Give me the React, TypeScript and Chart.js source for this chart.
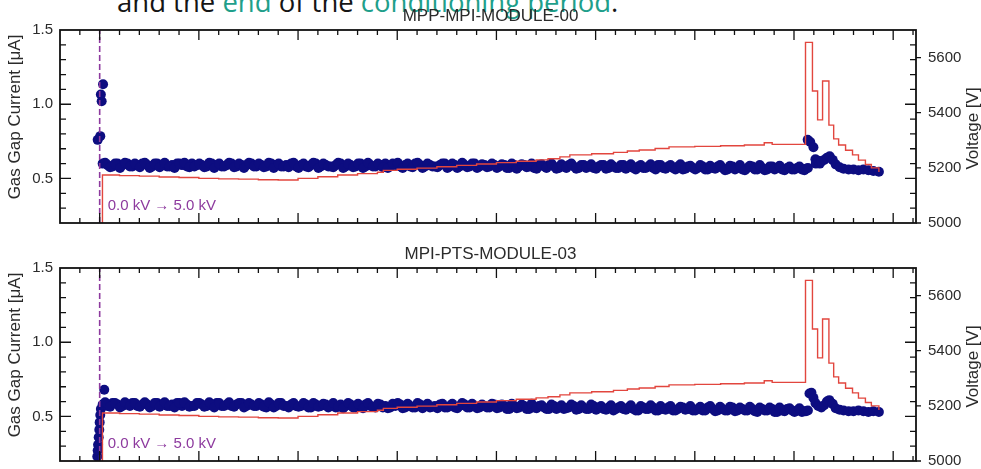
import React, { useEffect, useRef } from "react";
import { Chart, registerables } from "chart.js";

Chart.register(...registerables);

const FONT = "'Liberation Sans', Arial, Helvetica, sans-serif";

// ---- axes -------------------------------------------------------------
const TIME_MIN = -2;
const TIME_MAX = 41.15;
const TIME_MAJOR_STEP = 5;
const TIME_MINOR_STEP = 1;

const CURRENT_MIN = 0.2;
const CURRENT_MAX = 1.5;
const CURRENT_TICKS = [0.5, 1.0, 1.5];
const CURRENT_MINOR_STEP = 0.1;

const VOLTAGE_MIN = 5000;
const VOLTAGE_MAX = 5700;
const VOLTAGE_TICKS = [5000, 5200, 5400, 5600];

const CURRENT_TITLE = "Gas Gap Current [μA]";
const VOLTAGE_TITLE = "Voltage [V]";

const RAMP_TIME = 0;
const RAMP_LABEL = "0.0 kV → 5.0 kV";

const CAPTION_PARTS = ["and the ", "end", " of the ", "conditioning period", "."];
const CAPTION_TEAL = [false, true, false, true, false];

// ---- gas gap current (regularly sampled, two interleaved read-outs) ----
const BAND_T0 = 0.15;
const BAND_DT = 0.25;

// MPP-MPI-MODULE-00
const M00_TITLE = "MPP-MPI-MODULE-00";
const M00_START: [number, number][] = [
  [-0.1, 0.76], [0.03, 0.785], [0.1, 1.02], [0.06, 1.065], [0.17, 1.135],
];
const M00_BAND_A = [
  0.60, 0.59, 0.58, 0.60, 0.59, 0.60, 0.58, 0.59, 0.60, 0.59,
  0.58, 0.60, 0.59, 0.58, 0.59, 0.60, 0.59, 0.58, 0.60, 0.59,
  0.59, 0.58, 0.60, 0.59, 0.58, 0.59, 0.60, 0.58, 0.59, 0.59,
  0.60, 0.58, 0.59, 0.58, 0.60, 0.59, 0.58, 0.59, 0.60, 0.58,
  0.59, 0.58, 0.59, 0.60, 0.58, 0.59, 0.58, 0.59, 0.60, 0.58,
  0.59, 0.58, 0.60, 0.58, 0.59, 0.58, 0.59, 0.60, 0.58, 0.59,
  0.58, 0.59, 0.58, 0.60, 0.59, 0.58, 0.59, 0.58, 0.59, 0.60,
  0.58, 0.59, 0.58, 0.59, 0.58, 0.60, 0.58, 0.59, 0.58, 0.59,
  0.58, 0.59, 0.57, 0.59, 0.58, 0.59, 0.58, 0.57, 0.59, 0.58,
  0.59, 0.58, 0.57, 0.58, 0.59, 0.58, 0.57, 0.59, 0.58, 0.57,
  0.58, 0.59, 0.57, 0.58, 0.57, 0.59, 0.58, 0.57, 0.58, 0.57,
  0.58, 0.57, 0.59, 0.57, 0.58, 0.57, 0.58, 0.56, 0.58, 0.57,
  0.57, 0.58, 0.56, 0.57, 0.58, 0.57, 0.56, 0.58, 0.57, 0.56,
  0.57, 0.58, 0.56, 0.57, 0.56, 0.58, 0.57, 0.56, 0.57, 0.56,
  0.57, 0.56,
];
const M00_BAND_B = [
  0.605, 0.575, 0.60, 0.57, 0.605, 0.58, 0.60, 0.575, 0.605, 0.57,
  0.60, 0.575, 0.605, 0.58, 0.57, 0.60, 0.605, 0.575, 0.58, 0.60,
  0.575, 0.605, 0.57, 0.60, 0.58, 0.605, 0.575, 0.60, 0.57, 0.605,
  0.58, 0.60, 0.575, 0.605, 0.57, 0.60, 0.58, 0.575, 0.605, 0.57,
  0.60, 0.575, 0.605, 0.57, 0.60, 0.58, 0.575, 0.605, 0.57, 0.60,
  0.575, 0.60, 0.57, 0.605, 0.58, 0.60, 0.575, 0.57, 0.60, 0.605,
  0.57, 0.60, 0.575, 0.605, 0.57, 0.60, 0.58, 0.575, 0.60, 0.57,
  0.60, 0.57, 0.605, 0.575, 0.60, 0.57, 0.595, 0.575, 0.60, 0.57,
  0.595, 0.57, 0.60, 0.565, 0.595, 0.575, 0.60, 0.565, 0.595, 0.57,
  0.60, 0.565, 0.595, 0.57, 0.60, 0.565, 0.59, 0.57, 0.595, 0.565,
  0.59, 0.565, 0.595, 0.57, 0.59, 0.565, 0.595, 0.56, 0.59, 0.57,
  0.595, 0.56, 0.59, 0.565, 0.59, 0.56, 0.595, 0.565, 0.585, 0.56,
  0.59, 0.56, 0.585, 0.565, 0.59, 0.555, 0.585, 0.56, 0.59, 0.555,
  0.585, 0.56, 0.59, 0.555, 0.58, 0.56, 0.585, 0.555, 0.58, 0.56,
  0.58, 0.555,
];
const M00_END: [number, number][] = [
  [35.6, 0.565], [35.7, 0.57], [35.69, 0.76], [35.82, 0.745], [35.98, 0.71],
  [36.08, 0.63], [36.1, 0.60], [36.22, 0.62], [36.3, 0.60], [36.38, 0.615],
  [36.52, 0.625], [36.66, 0.64], [36.8, 0.65], [36.95, 0.625], [37.1, 0.595],
  [37.3, 0.575], [37.5, 0.565], [37.75, 0.56], [38.0, 0.56], [38.25, 0.555],
  [38.5, 0.56], [38.75, 0.555], [39.0, 0.55], [39.28, 0.545],
];

// MPI-PTS-MODULE-03
const M03_TITLE = "MPI-PTS-MODULE-03";
const M03_START: [number, number][] = [
  [-0.12, 0.23], [-0.1, 0.27], [-0.08, 0.31], [-0.05, 0.36], [-0.02, 0.41],
  [0.0, 0.46], [0.03, 0.51], [0.06, 0.55], [0.23, 0.68],
];
const M03_BAND_A = [
  0.58, 0.57, 0.59, 0.58, 0.57, 0.58, 0.59, 0.57, 0.58, 0.58,
  0.57, 0.59, 0.58, 0.57, 0.58, 0.59, 0.57, 0.58, 0.57, 0.59,
  0.58, 0.57, 0.58, 0.59, 0.57, 0.58, 0.57, 0.58, 0.59, 0.57,
  0.58, 0.57, 0.58, 0.56, 0.58, 0.57, 0.59, 0.57, 0.58, 0.57,
  0.57, 0.58, 0.56, 0.58, 0.57, 0.58, 0.57, 0.56, 0.58, 0.57,
  0.58, 0.56, 0.57, 0.58, 0.57, 0.56, 0.58, 0.57, 0.56, 0.57,
  0.58, 0.56, 0.57, 0.56, 0.58, 0.57, 0.56, 0.57, 0.58, 0.56,
  0.57, 0.56, 0.57, 0.58, 0.56, 0.57, 0.56, 0.57, 0.56, 0.58,
  0.56, 0.57, 0.55, 0.57, 0.56, 0.57, 0.55, 0.56, 0.57, 0.56,
  0.55, 0.57, 0.56, 0.55, 0.56, 0.57, 0.55, 0.56, 0.55, 0.57,
  0.56, 0.55, 0.56, 0.54, 0.56, 0.55, 0.56, 0.55, 0.54, 0.56,
  0.55, 0.56, 0.54, 0.55, 0.56, 0.54, 0.55, 0.56, 0.55, 0.54,
  0.55, 0.54, 0.56, 0.55, 0.54, 0.55, 0.54, 0.56, 0.54, 0.55,
  0.54, 0.55, 0.53, 0.55, 0.54, 0.55, 0.53, 0.54, 0.55, 0.54,
  0.54, 0.53,
];
const M03_BAND_B = [
  0.595, 0.565, 0.59, 0.56, 0.595, 0.57, 0.59, 0.565, 0.595, 0.56,
  0.59, 0.565, 0.595, 0.57, 0.56, 0.59, 0.595, 0.565, 0.57, 0.59,
  0.565, 0.595, 0.56, 0.59, 0.57, 0.595, 0.565, 0.59, 0.56, 0.59,
  0.57, 0.59, 0.565, 0.595, 0.56, 0.59, 0.57, 0.56, 0.59, 0.565,
  0.59, 0.56, 0.59, 0.565, 0.585, 0.56, 0.59, 0.565, 0.555, 0.59,
  0.56, 0.585, 0.555, 0.59, 0.565, 0.585, 0.56, 0.555, 0.585, 0.59,
  0.555, 0.585, 0.56, 0.59, 0.555, 0.585, 0.565, 0.555, 0.585, 0.56,
  0.585, 0.555, 0.59, 0.56, 0.585, 0.555, 0.58, 0.56, 0.585, 0.555,
  0.58, 0.55, 0.585, 0.555, 0.58, 0.55, 0.585, 0.555, 0.575, 0.55,
  0.58, 0.55, 0.575, 0.555, 0.58, 0.545, 0.575, 0.55, 0.58, 0.545,
  0.57, 0.545, 0.575, 0.55, 0.57, 0.545, 0.575, 0.54, 0.57, 0.55,
  0.575, 0.54, 0.57, 0.545, 0.57, 0.54, 0.565, 0.545, 0.57, 0.54,
  0.565, 0.54, 0.57, 0.535, 0.565, 0.54, 0.565, 0.535, 0.56, 0.54,
  0.565, 0.535, 0.56, 0.54, 0.56, 0.53, 0.56, 0.535, 0.555, 0.53,
  0.555, 0.535,
];
const M03_END: [number, number][] = [
  [35.6, 0.535], [35.7, 0.54], [35.78, 0.655], [35.88, 0.66], [35.98, 0.625],
  [36.08, 0.59], [36.22, 0.57], [36.38, 0.56], [36.52, 0.575], [36.66, 0.60],
  [36.78, 0.61], [36.95, 0.585], [37.1, 0.555], [37.3, 0.545], [37.5, 0.54],
  [37.75, 0.535], [38.0, 0.535], [38.25, 0.54], [38.5, 0.535], [38.75, 0.53],
  [39.0, 0.535], [39.28, 0.53],
];

// ---- high voltage (step-wise, each value holds from its time on) -----
const VOLT_T = [
  0.0, 0.14, 1, 2, 3, 4, 5, 6, 7, 8, 9, 10, 11, 12, 13, 14, 14.3, 15, 16, 17,
  18, 19, 20, 21, 22, 22.6, 23.2, 23.7, 24.8, 25.9, 26.6, 27.2, 28.0, 28.7, 30.0,
  31.3, 32.5, 33.5, 33.9, 35.58, 35.93, 36.19, 36.44, 36.76, 37.0, 37.25, 37.6,
  37.95, 38.25, 38.6, 38.9, 39.28,
];
const VOLT_V = [
  0, 5174, 5172, 5170, 5167, 5165, 5162, 5160, 5159, 5157, 5156, 5162, 5168,
  5174, 5179, 5184, 5191, 5195, 5199, 5204, 5209, 5214, 5219, 5224, 5229, 5233,
  5240, 5247, 5251, 5256, 5261, 5265, 5270, 5276, 5278, 5280, 5283, 5291, 5285,
  5655, 5479, 5374, 5515, 5355, 5305, 5283, 5264, 5247, 5228, 5212, 5200, 5185,
];

const NAVY = "#0d0d80";
const RED = "#e2463e";
const PURPLE = "#8d3a9e";
const TEAL = "#1f9f8b";
const INK = "#111";
const LABEL = "#2b2b2b";

const framePlugin = {
  id: "frameTicks",
  afterDraw(chart: any) {
    const { ctx, chartArea: a, scales } = chart;
    const xs = scales.x;
    const yI = scales.yI;
    const yV = scales.yV;
    ctx.save();
    ctx.strokeStyle = INK;
    ctx.lineWidth = 1.3;
    ctx.beginPath();
    for (let t = Math.ceil(TIME_MIN); t <= TIME_MAX; t += TIME_MINOR_STEP) {
      const px = xs.getPixelForValue(t);
      if (px <= a.left + 1 || px >= a.right - 1) continue;
      const len = t % TIME_MAJOR_STEP === 0 ? 10 : 5;
      ctx.moveTo(px, a.bottom);
      ctx.lineTo(px, a.bottom - len);
      ctx.moveTo(px, a.top);
      ctx.lineTo(px, a.top + len);
    }
    const nMinor = Math.round((CURRENT_MAX - CURRENT_MIN) / CURRENT_MINOR_STEP);
    for (let k = 0; k <= nMinor; k++) {
      const v = CURRENT_MIN + k * CURRENT_MINOR_STEP;
      const py = yI.getPixelForValue(v);
      if (py <= a.top + 1 || py >= a.bottom - 1) continue;
      const major = CURRENT_TICKS.some((m) => Math.abs(m - v) < 1e-6);
      const len = major ? 11 : 6;
      ctx.moveTo(a.left, py);
      ctx.lineTo(a.left + len, py);
      ctx.moveTo(a.right, py);
      ctx.lineTo(a.right - len, py);
    }
    VOLTAGE_TICKS.forEach((v) => {
      const py = yV.getPixelForValue(v);
      ctx.moveTo(a.right, py);
      ctx.lineTo(a.right + 5, py);
    });
    ctx.stroke();

    ctx.lineWidth = 1.8;
    ctx.strokeRect(a.left, a.top, a.right - a.left, a.bottom - a.top);

    // axis titles (both read bottom-to-top)
    ctx.fillStyle = LABEL;
    ctx.font = `17px ${FONT}`;
    ctx.textAlign = "center";
    ctx.textBaseline = "middle";
    const midY = (a.top + a.bottom) / 2;
    ctx.save();
    ctx.translate(15, midY - 9.5);
    ctx.rotate(-Math.PI / 2);
    ctx.fillText(CURRENT_TITLE, 0, 0);
    ctx.restore();
    ctx.save();
    ctx.translate(973, midY + 2);
    ctx.rotate(-Math.PI / 2);
    ctx.fillText(VOLTAGE_TITLE, 0, 0);
    ctx.restore();

    // ramp annotation
    ctx.fillStyle = PURPLE;
    ctx.font = `15px ${FONT}`;
    ctx.textAlign = "left";
    ctx.fillText(RAMP_LABEL, xs.getPixelForValue(RAMP_TIME) + 8, a.bottom - 17);
    ctx.restore();
  },
};

const noOverflow = (s: any, w: number) => {
  s.width = w;
  s.paddingTop = 0;
  s.paddingBottom = 0;
};

type PanelProps = {
  title: string;
  start: [number, number][];
  bandA: number[];
  bandB: number[];
  end: [number, number][];
  top: number;
  height: number;
};

function Panel({ title, start, bandA, bandB, end, top, height }: PanelProps) {
  const ref = useRef<HTMLCanvasElement | null>(null);
  useEffect(() => {
    if (!ref.current) return;
    const current = [
      ...start.map(([x, y]) => ({ x, y })),
      ...bandA.map((y, i) => ({ x: BAND_T0 + i * BAND_DT, y })),
      ...bandB.map((y, i) => ({ x: BAND_T0 + (i + 0.5) * BAND_DT, y })),
      ...end.map(([x, y]) => ({ x, y })),
    ];
    const voltage = VOLT_T.map((x, i) => ({ x, y: VOLT_V[i] }));
    const chart = new Chart(ref.current, {
      type: "scatter",
      data: {
        datasets: [
          {
            label: "Voltage",
            data: voltage,
            yAxisID: "yV",
            showLine: true,
            stepped: "before",
            borderColor: RED,
            borderWidth: 1.4,
            pointRadius: 0,
            order: 0,
          } as any,
          {
            label: "Ramp",
            data: [
              { x: RAMP_TIME, y: CURRENT_MIN },
              { x: RAMP_TIME, y: CURRENT_MAX },
            ],
            yAxisID: "yI",
            showLine: true,
            borderColor: PURPLE,
            borderWidth: 1.6,
            borderDash: [6, 3],
            pointRadius: 0,
            order: 1,
          } as any,
          {
            label: "Current",
            data: current,
            yAxisID: "yI",
            backgroundColor: NAVY,
            borderColor: NAVY,
            pointRadius: 5,
            pointBorderWidth: 0,
            order: 2,
          } as any,
        ],
      },
      options: {
        responsive: false,
        animation: false,
        events: [],
        layout: { padding: { left: 0, right: 0, top: 0, bottom: height - 223 } },
        plugins: {
          legend: { display: false },
          tooltip: { enabled: false },
          title: {
            display: true,
            text: title,
            color: LABEL,
            font: { family: FONT, size: 17, weight: "normal" },
            padding: { top: 6.5, bottom: 3.1 },
          },
        },
        scales: {
          x: { type: "linear", display: false, min: TIME_MIN, max: TIME_MAX },
          yI: {
            type: "linear",
            position: "left",
            min: CURRENT_MIN,
            max: CURRENT_MAX,
            grid: { display: false, drawTicks: false },
            border: { display: false },
            afterBuildTicks: (s: any) => {
              s.ticks = CURRENT_TICKS.map((v) => ({ value: v }));
            },
            afterFit: (s: any) => noOverflow(s, 60),
            ticks: {
              color: LABEL,
              padding: 7,
              font: { family: FONT, size: 15 },
              callback: (v: any) => Number(v).toFixed(1),
            },
          },
          yV: {
            type: "linear",
            position: "right",
            min: VOLTAGE_MIN,
            max: VOLTAGE_MAX,
            grid: { display: false, drawTicks: false },
            border: { display: false },
            afterBuildTicks: (s: any) => {
              s.ticks = VOLTAGE_TICKS.map((v) => ({ value: v }));
            },
            afterFit: (s: any) => noOverflow(s, 65),
            ticks: {
              color: LABEL,
              padding: 12,
              font: { family: FONT, size: 15 },
              callback: (v: any) => String(v),
            },
          },
        },
      } as any,
      plugins: [framePlugin],
    });
    return () => chart.destroy();
  }, []);
  return (
    <canvas
      ref={ref}
      width={981}
      height={height}
      style={{ position: "absolute", left: 0, top, display: "block" }}
    />
  );
}

export default function App() {
  return (
    <div
      style={{
        position: "absolute",
        left: 0,
        top: 0,
        width: 981,
        height: 469,
        overflow: "hidden",
        background: "#fff",
      }}
    >
      <div
        style={{
          position: "absolute",
          left: 117,
          top: -12.5,
          fontFamily: "'Open Sans', 'Noto Sans', sans-serif",
          fontSize: 27.5,
          lineHeight: 1,
          whiteSpace: "nowrap",
          color: "#151515",
        }}
      >
        {CAPTION_PARTS.map((p, i) => (
          <span key={i} style={{ color: CAPTION_TEAL[i] ? TEAL : undefined }}>
            {p}
          </span>
        ))}
      </div>
      <Panel title={M00_TITLE} start={M00_START} bandA={M00_BAND_A} bandB={M00_BAND_B} end={M00_END} top={0} height={238} />
      <Panel title={M03_TITLE} start={M03_START} bandA={M03_BAND_A} bandB={M03_BAND_B} end={M03_END} top={238} height={231} />
    </div>
  );
}
